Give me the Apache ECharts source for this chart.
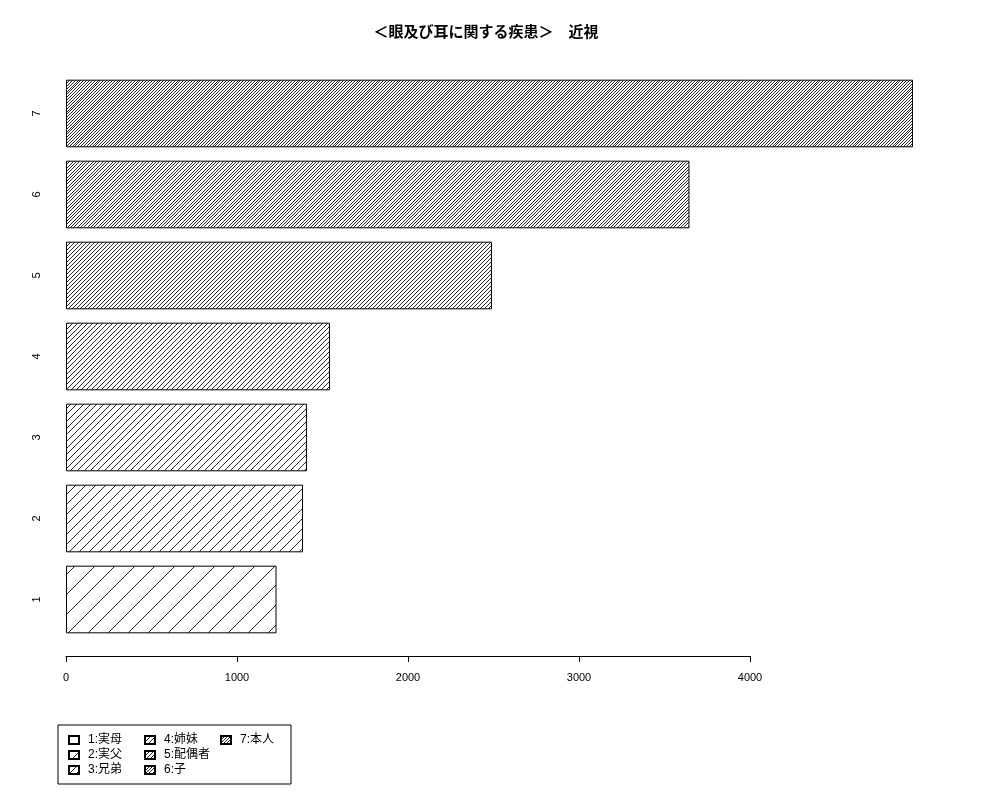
<!DOCTYPE html>
<html>
<head>
<meta charset="utf-8">
<script src="https://cdn.jsdelivr.net/npm/echarts@6/dist/echarts.min.js"></script>
<style>html,body{margin:0;padding:0;background:#fff}#c{width:1000px;height:800px}</style>
</head>
<body>
<div id="c"></div>
<script>
const titleText = '＜眼及び耳に関する疾患＞　近視';
const categories = ['1', '2', '3', '4', '5', '6', '7'];
const seriesNames = ['1:実母', '2:実父', '3:兄弟', '4:姉妹', '5:配偶者', '6:子', '7:本人'];
const values = [1231, 1386, 1409, 1544, 2491, 3646, 4953];
const hatchDensity = [1, 2, 3, 4, 5, 6, 7];
const xTicks = [0, 1000, 2000, 3000, 4000];

function hatch(k) {
  const s = 20;
  const cv = document.createElement('canvas');
  cv.width = s; cv.height = s;
  const ctx = cv.getContext('2d');
  const img = ctx.createImageData(s, s);
  const step = s / k;
  for (let y = 0; y < s; y++) {
    for (let x = 0; x < s; x++) {
      const t = x + y;
      const r = t - Math.floor(t / step) * step;
      const on = r < 1;
      const v = on ? 40 : 255;
      const p = (y * s + x) * 4;
      img.data[p] = v; img.data[p + 1] = v; img.data[p + 2] = v; img.data[p + 3] = 255;
    }
  }
  ctx.putImageData(img, 0, 0);
  return { image: cv, repeat: 'repeat' };
}

const font = "'Liberation Sans', 'Noto Sans CJK JP', sans-serif";
const series = seriesNames.map((name, i) => ({
  name: name,
  type: 'bar',
  stack: 'all',
  clip: false,
  barCategoryGap: '16.5%',
  itemStyle: { color: hatch(hatchDensity[i]), borderColor: '#000', borderWidth: 1 },
  emphasis: { disabled: true },
  data: categories.map((c, j) => (j === i ? values[i] : null))
}));

const chart = echarts.init(document.getElementById('c'), null, { renderer: 'canvas' });
chart.setOption({
  animation: false,
  backgroundColor: '#fff',
  title: {
    text: titleText,
    left: 481,
    textAlign: 'center',
    top: 19,
    textStyle: { fontSize: 15, fontWeight: 'bold', color: '#000', fontFamily: "'Noto Sans CJK JP', sans-serif" }
  },
  legend: {
    orient: 'vertical',
    left: 58,
    top: 725,
    height: 44,
    padding: [9, 17, 8, 10],
    itemGap: 3,
    itemWidth: 10,
    itemHeight: 8,
    icon: 'rect',
    borderColor: '#000',
    borderWidth: 1,
    data: seriesNames,
    formatter: function (name) {
      return seriesNames.indexOf(name) < 6 ? '{a|' + name + '}' : '{b|' + name + '}';
    },
    textStyle: {
      fontSize: 12, color: '#000', fontFamily: font,
      rich: {
        a: { width: 53, padding: [0, 0, 0, 4], fontSize: 12, lineHeight: 11, fontFamily: font },
        b: { padding: [0, 0, 0, 4], fontSize: 12, lineHeight: 11, fontFamily: font }
      }
    }
  },
  grid: { left: 66, top: 73, width: 684, height: 567, containLabel: false },
  xAxis: {
    type: 'value',
    min: xTicks[0],
    max: xTicks[xTicks.length - 1],
    interval: 1000,
    offset: 16,
    axisLine: { show: true, lineStyle: { color: '#000', width: 1 } },
    axisTick: { show: true, length: 6, lineStyle: { color: '#000' } },
    splitLine: { show: false },
    axisLabel: { margin: 16, fontSize: 11, color: '#000', fontFamily: font, formatter: function (v) { return String(v); } }
  },
  yAxis: {
    type: 'category',
    data: categories,
    axisLine: { show: false },
    axisTick: { show: false },
    axisLabel: { rotate: 90, margin: 24, fontSize: 11, color: '#000', fontFamily: font }
  },
  series: series
});
</script>
</body>
</html>
